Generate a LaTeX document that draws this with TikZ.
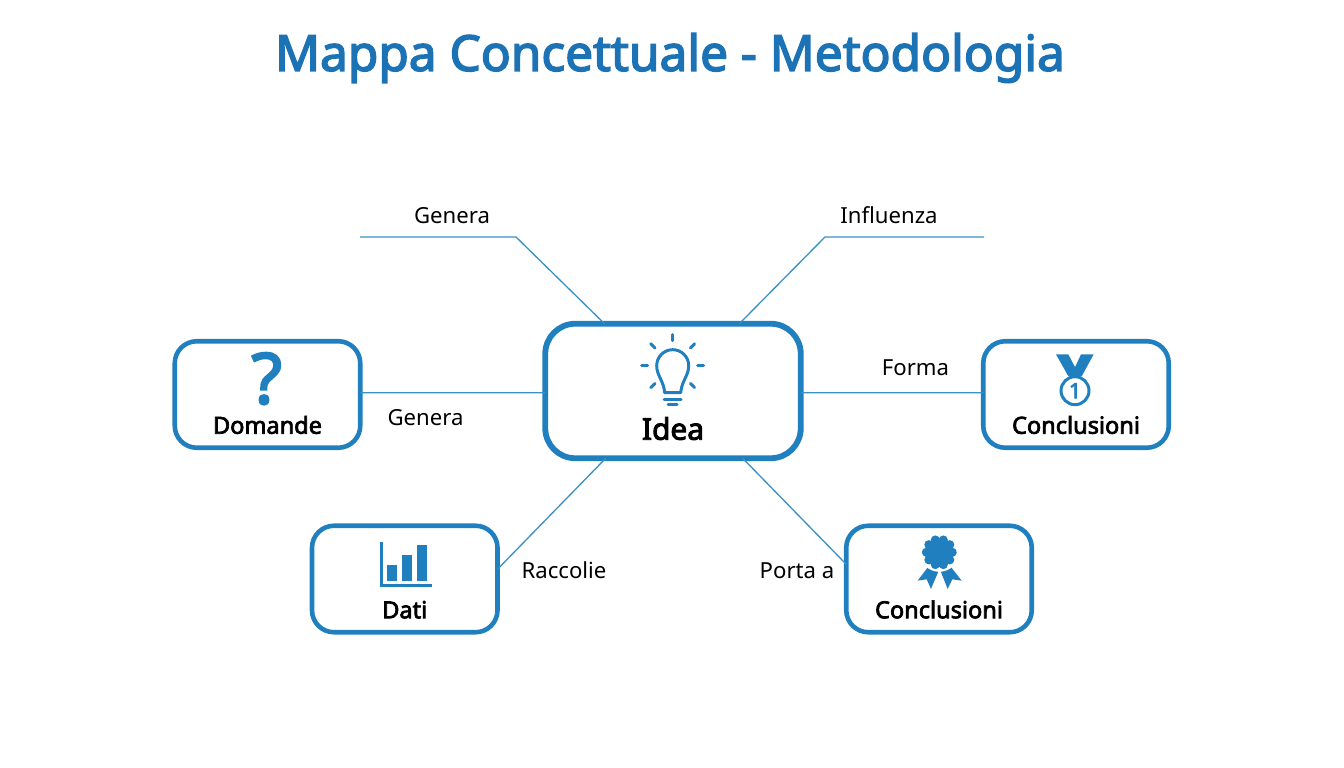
\documentclass[tikz,border=0pt]{standalone}
\usepackage{fontspec}
\setmainfont{Noto Sans}
\newfontfamily\heavysans{Noto Sans}[FakeBold=3]
\definecolor{mapblue}{HTML}{1F7FBF}
\definecolor{titleblue}{HTML}{1B73B5}
\definecolor{linkblue}{HTML}{3A90C6}
\tikzset{
  conceptbox/.style={draw=mapblue, line width=2.6pt, rounded corners=0.44cm, inner sep=0pt, outer sep=0pt,
    minimum width=3.71cm, text height=1.85cm, text depth=0.28cm, font=\fontsize{13.4}{15}\heavysans, text=black},
  mainbox/.style={conceptbox, line width=3.3pt, rounded corners=0.6cm, minimum width=5.11cm,
    text height=2.32cm, text depth=0.37cm, font=\fontsize{17}{20}\heavysans},
  linkline/.style={linkblue, line width=0.75pt},
  linklabel/.style={anchor=base, font=\fontsize{12.6}{15}\selectfont, text=black},
  iconline/.style={mapblue, line width=1.7pt, line cap=round}
}
\begin{document}
\begin{tikzpicture}
\useasboundingbox (0,0) rectangle (26.88,15.36);

\node[font=\fontsize{28.2}{32}\heavysans, text=titleblue] (title) at (13.4,14.2) {Mappa Concettuale - Metodologia};

% Boxes
\node[mainbox] (idea) at (13.46,7.54) {Idea};
\node[conceptbox] (domande) at (5.35,7.47) {Domande};
\node[conceptbox] (conclusioni) at (21.52,7.47) {Conclusioni};
\node[conceptbox] (dati) at (8.095,3.78) {Dati};
\node[conceptbox] (premio) at (18.78,3.78) {Conclusioni};

% Free ends of the two upper connectors
\coordinate (genstart) at (7.2,10.62);
\coordinate (genbend) at (10.32,10.62);
\coordinate (infstart) at (19.68,10.62);
\coordinate (infbend) at (16.5,10.62);

% Connectors
\draw[linkline] (genstart) -- (genbend) -- (idea);
\draw[linkline] (infstart) -- (infbend) -- (idea);
\draw[linkline] ([yshift=0.035cm]domande.east) -- ([yshift=-0.035cm]idea.west);
\draw[linkline] ([yshift=-0.035cm]idea.east) -- ([yshift=0.035cm]conclusioni.west);
\draw[linkline] (dati.6) -- (idea.225);
\draw[linkline] (idea.316) -- (premio.171);

% Connector labels
\node[linklabel] (lgenera) at (9.04,10.88) {Genera};
\node[linklabel] (linfluenza) at (17.78,10.88) {Influenza};
\node[linklabel] (lforma) at (18.31,7.84) {Forma};
\node[linklabel] (lgenerab) at (8.51,6.85) {Genera};
\node[linklabel] (lraccolie) at (11.28,3.78) {Raccolie};
\node[linklabel] (lporta) at (15.94,3.78) {Porta a};

% Bulb
\begin{scope}[shift={(13.454,8.046)}]
\draw[iconline, line join=round] (-0.16,-0.54) .. controls (-0.18,-0.3) and (-0.32,-0.2) .. (-0.32,0) arc (180:0:0.32) .. controls (0.32,-0.2) and (0.18,-0.3) .. (0.16,-0.54) -- cycle;
\draw[iconline] (-0.17,-0.67) -- (0.17,-0.67);
\draw[iconline] (-0.09,-0.78) -- (0.09,-0.78);
\foreach \a in {0,45,135,180,225,315,90}
  \draw[iconline] (\a:0.5) -- (\a:0.62);
\end{scope}

% Question mark
\node[font=\fontsize{40}{44}\heavysans, text=mapblue] (domicon) at (5.334,7.786) {?};

% Medal
\begin{scope}[shift={(21.5,7.546)}]
\fill[mapblue] (-0.38,0.727) -- (-0.133,0.727) -- (0,0.47) -- (0.12,0.727) -- (0.373,0.727) -- (0.14,0.3) -- (0,0.24) -- (-0.14,0.3) -- cycle;
\draw[mapblue, line width=1.7pt, fill=white] (0,0) circle (0.28);
\node[font=\fontsize{12}{14}\heavysans, text=mapblue] (medalnum) at (0,0) {1};
\end{scope}

% Rosette
\begin{scope}[shift={(18.786,4.314)}]
\fill[mapblue] (-0.22,-0.287) -- (-0.433,-0.567) -- (-0.253,-0.54) -- (-0.167,-0.733) -- (-0.02,-0.387) -- cycle;
\fill[mapblue] (0.227,-0.287) -- (0.447,-0.567) -- (0.26,-0.54) -- (0.167,-0.733) -- (0.03,-0.387) -- cycle;
\fill[white] (0,0) circle (0.39);
\fill[mapblue] (0,0) circle (0.29);
\foreach \a in {0,36,...,324}
  \fill[mapblue] (\a:0.26) circle (0.09);
\end{scope}

% Bars
\begin{scope}[shift={(7.626,3.654)}]
\draw[mapblue, line width=1.5pt] (0,0.873) -- (0,0) -- (1.02,0);
\foreach \x/\h in {0.107/0.407,0.407/0.607,0.707/0.813}
  \fill[mapblue] (\x,0.087) rectangle (\x+0.205,\h);
\end{scope}
\end{tikzpicture}
\end{document}
